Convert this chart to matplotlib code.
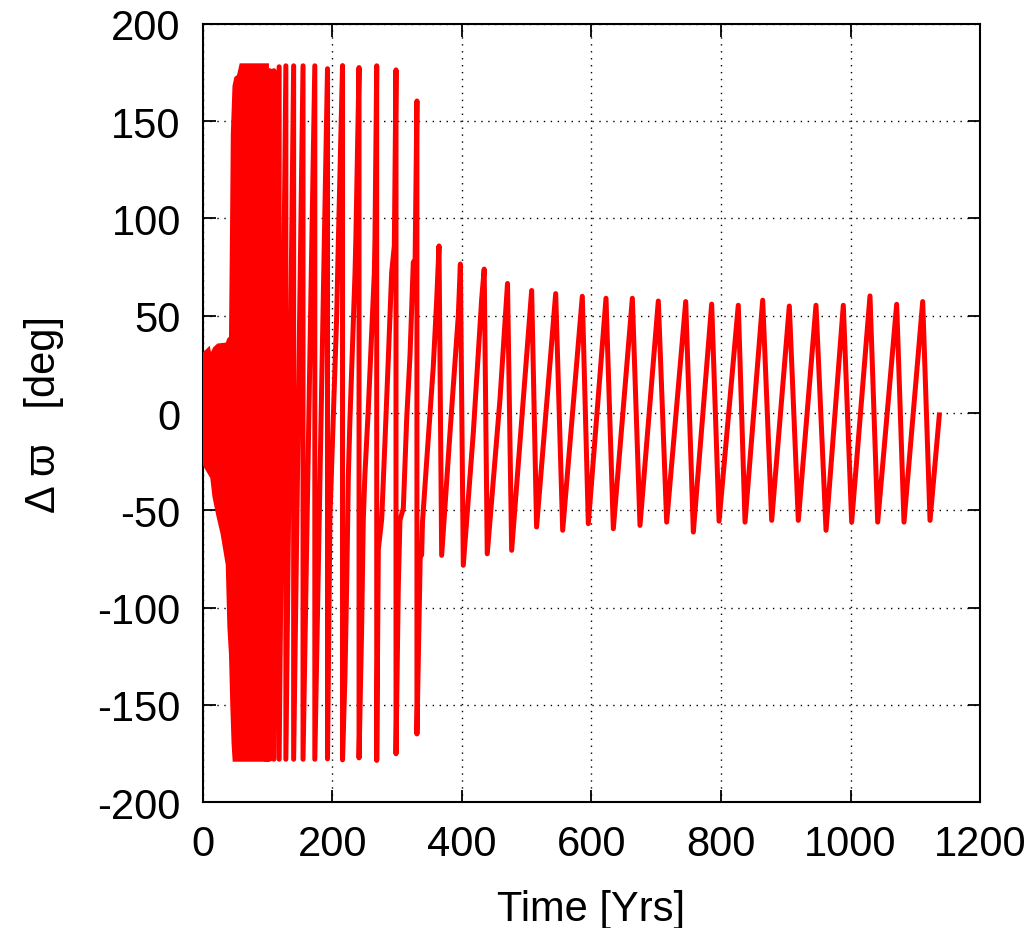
import matplotlib
matplotlib.use('Agg')
import matplotlib.pyplot as plt
import numpy as np

plt.rcParams['font.family'] = ['Liberation Sans', 'DejaVu Sans']
plt.rcParams['font.size'] = 30
plt.rcParams['axes.unicode_minus'] = False

# dense band at the start (upper / lower envelope)
band_hi_t = [0, 1, 5, 8, 11, 13, 16, 19, 24, 38, 41, 44, 45.8, 46.8, 49.4, 52, 56, 59.8, 98]
band_hi_v = [28, 30, 31, 32, 27, 29, 31, 33, 34.5, 35, 37.7, 38.5, 102, 143, 168, 172, 173, 178.5, 178.5]
band_lo_t = [0, 1, 8, 15, 18.5, 24, 31, 36, 39, 41.5, 44, 46, 48, 49.5, 98]
band_lo_v = [-18, -25, -29, -33, -43, -52, -62, -72, -78, -110, -124, -150, -170, -178, -178]

# circulation phase (wraps drawn as two points at same time)
circ_t = [98, 103, 103, 109.5, 109.5, 117.6, 117.6, 128, 128, 140, 140,
          154.5, 154.5, 172.7, 172.7, 192.3, 192.3,
          196, 206.5, 209, 215.5, 215.5,
          219.3, 222, 224.5, 227, 234.8, 236.1, 241, 241,
          245, 247.6, 250, 255.3, 264.6, 265.6, 268.3, 268.3,
          270.8, 276, 281, 286.2, 291.4, 295.5, 298.1, 298.1,
          301.6, 304.2, 309.4, 314.6, 319.7, 324.8, 327.6, 330.4, 330.4,
          335.5, 337.7, 339, 345, 355.7, 361, 364.5]
circ_v = [-178, 176, -178, 176, -178, 178, -178, 178.5, -178, 178.5, -178,
          178.5, -178, 178.5, -178, 177, -177.8,
          -54, 50, 87.6, 178.6, -178.3,
          -135, -87, -32, -3, 72, 89.5, 177.6, -177.3,
          -111, -54.5, -32, 2, 72, 89.5, 178.5, -178.6,
          -70, -54.5, -15, 27.8, 72.3, 86, 176.4, -175.2,
          -90, -55, -49, -3, 29.5, 77.5, 79, 160.4, -165,
          -73.4, -73, -56, -27, 24, 58.6, 85.9]

# libration phase
lib_t = [368.6, 381.5, 394.3, 397.5, 402, 417.5, 430.4, 434.3, 439, 458.7, 470.3,
         476.7, 494.7, 507.6, 515.2, 544.7, 555.5, 585.8, 595.1, 622.4, 633.7,
         663.1, 674.9, 703.2, 716.1, 745.5, 757.3, 785.6, 797, 826.7, 837.1,
         864.4, 878.3, 905.5, 919.4, 946.7, 962.2, 988.9, 1001.8, 1030.1, 1042,
         1071.3, 1082.6, 1111.5, 1122.8, 1137.2]
lib_v = [-73.2, -10, 50, 76.6, -78.3, -10, 58.6, 74, -72.4, 7.2, 66.6,
         -70.6, 7.2, 63, -58.6, 61.4, -60.3, 60, -56.9, 59, -59.5,
         59, -57.8, 57.6, -56.1, 57.3, -61.2, 56, -55.6, 55.4, -56.1,
         58, -55.2, 55, -55.2, 55.4, -60.3, 55.4, -56.1, 60.2, -56.1,
         55.9, -56.1, 57.3, -55.2, -1]

fig = plt.figure(figsize=(10.33, 9.29), dpi=100)
ax = fig.add_axes([0.1965, 0.1356, 0.7522, 0.8375])

red = '#ff0000'
ax.fill(band_hi_t + band_lo_t[::-1], band_hi_v + band_lo_v[::-1],
        facecolor=red, edgecolor=red, lw=3.6, zorder=3)
ax.plot(circ_t + lib_t, circ_v + lib_v, color=red, lw=3.6, zorder=3)

ax.set_xlim(0, 1200)
ax.set_ylim(-200, 200)
ax.set_xticks(np.arange(0, 1201, 200))
ax.set_yticks(np.arange(-200, 201, 50))
ax.grid(True, color='black', linestyle=(0, (1, 4)), lw=1.0)
ax.set_axisbelow(True)
for s in ax.spines.values():
    s.set_linewidth(1.5)
ax.tick_params(direction='in', length=9, width=1.3, top=True, right=True,
               pad=16, labelsize=30)

ax.set_xlabel('Time [Yrs]', labelpad=18)
ax.set_ylabel('\u0394 \u03d6   [deg]', labelpad=24)

fig.savefig('out.png', dpi=100)
